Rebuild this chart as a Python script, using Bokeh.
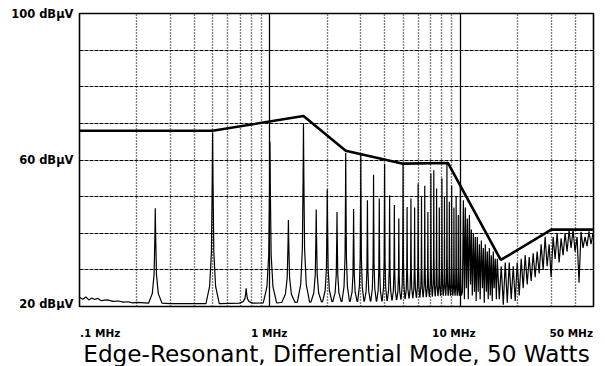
import numpy as np
from bokeh.plotting import figure
from bokeh.layouts import column
from bokeh.models import FixedTicker, Range1d
from bokeh.core.properties import value
from bokeh.embed import file_html
from bokeh.resources import INLINE

# ---------------- data ----------------
x_start, x_end = 0.1, 50.0
y_start, y_end = 20, 100

y_tick_values = [20, 60, 100]
y_tick_labels = ["20 dBµV", "60 dBµV", "100 dBµV"]
x_tick_values = [0.1, 1, 10, 50]
x_tick_labels = [".1 MHz", "1 MHz", "10 MHz", "50 MHz"]
title_text = "Edge-Resonant, Differential Mode, 50 Watts"

grid_decades = [0.1, 1, 10]
grid_minor = [0.2, 0.3, 0.4, 0.5, 0.6, 0.7, 0.8, 0.9,
              2, 3, 4, 5, 6, 7, 8, 9, 20, 30, 40]
grid_db = [20, 30, 40, 50, 60, 70, 80, 90, 100]

# limit line (MHz, dBuV)
limit_freq = [0.1, 0.5, 1.5, 2.5, 5.0, 8.6, 16.3, 30.0, 50.0]
limit_db = [68.0, 68.0, 72.0, 62.5, 59.0, 59.2, 32.7, 41.0, 41.0]

# harmonic peaks (MHz, dBuV)
harm_freq = [0.25, 0.5, 0.75, 1.0, 1.25, 1.5, 1.75, 2.0, 2.25, 2.5,
             2.75, 3.0, 3.25, 3.5, 3.75, 4.0, 4.25, 4.5, 4.75, 5.0,
             5.25, 5.5, 5.75, 6.0, 6.25, 6.5, 6.75, 7.0, 7.25, 7.5,
             7.75, 8.0, 8.25, 8.5, 8.75, 9.0, 9.25, 9.5, 9.75, 10.0]
harm_db = [46.8, 67.5, 25.0, 65.0, 43.6, 70.0, 46.5, 52.0, 45.8, 62.0,
           46.6, 61.5, 49.0, 56.0, 49.5, 59.0, 50.4, 47.7, 44.0, 59.0,
           47.2, 49.5, 47.0, 53.6, 50.0, 53.0, 45.8, 56.3, 57.2, 52.2,
           47.0, 55.0, 50.0, 59.0, 48.6, 53.0, 47.0, 50.0, 45.0, 53.0]

# noise floor below the harmonics (MHz, dBuV)
floor_freq = [0.1, 0.104, 0.108, 0.112, 0.116, 0.12, 0.125, 0.13, 0.14,
              0.15, 0.16, 0.17, 0.18, 0.19, 0.2, 0.3, 0.5, 1.0, 2.0,
              4.0, 6.0, 8.0, 10.0]
floor_db = [22.5, 22.0, 22.6, 21.8, 22.3, 21.9, 22.2, 21.6, 21.8,
            21.4, 21.5, 21.2, 21.3, 21.0, 21.1, 20.8, 20.8, 21.0, 21.3,
            21.5, 22.5, 23.0, 23.0]

# dense emission above 10 MHz, peaks and valleys (MHz, dBuV)
dense_freq = [10.25, 10.37, 10.5, 10.62, 10.75, 10.88, 11.0, 11.15, 11.3,
              11.42, 11.55, 11.70, 11.85, 11.98, 12.1, 12.27, 12.4, 12.58,
              12.7, 12.88, 13.05, 13.20, 13.35, 13.52, 13.7, 13.85, 14.0,
              14.19, 14.35, 14.53, 14.7, 14.89, 15.05, 15.25, 15.45, 15.62,
              16.01, 16.39, 16.80, 17.20, 17.63, 18.05, 18.49, 18.95, 19.41,
              19.88, 20.37, 20.86, 21.37, 21.89, 22.43, 22.98, 23.53, 24.11,
              24.70, 25.30, 25.92, 26.55, 27.20, 27.86, 28.55, 29.24, 29.95,
              30.69, 31.44, 32.21, 32.99, 33.80, 34.62, 35.46, 36.33, 37.22,
              38.13, 39.05, 40.01, 40.99, 41.98, 43.01, 44.06, 45.14, 46.23,
              47.36, 48.52, 49.70]
dense_db = [24.0, 49.0, 22.0, 47.0, 25.0, 44.0, 22.0, 45.0, 26.0,
            41.0, 23.0, 40.0, 24.0, 39.0, 21.5, 39.0, 24.0, 37.0,
            22.0, 38.0, 25.0, 36.0, 21.0, 37.0, 24.0, 35.0, 22.0,
            36.0, 23.0, 34.0, 21.5, 35.0, 25.0, 33.0, 22.0, 33.0,
            22.0, 31.0, 20.5, 32.0, 21.0, 32.0, 22.0, 31.0, 21.5,
            32.0, 23.0, 33.0, 25.0, 34.0, 26.0, 33.5, 27.0, 34.5,
            28.0, 35.0, 29.0, 37.0, 30.0, 39.0, 31.0, 37.0, 28.0,
            39.0, 33.0, 40.0, 32.0, 38.6, 34.0, 40.0, 35.0, 40.8,
            36.0, 41.0, 35.0, 39.0, 26.5, 40.4, 36.0, 39.0, 36.5,
            40.5, 37.0, 40.0]

# ---------------- build the measured trace ----------------
shape_off = [-1.0, -0.45, -0.18, -0.06, 0.0, 0.06, 0.18, 0.45, 1.0]
shape_lvl = [0.0, 0.10, 0.30, 0.70, 1.0, 0.70, 0.30, 0.10, 0.0]

lf_floor = np.log10(floor_freq)
hl = np.log10(harm_freq)
half = []
for i in range(len(hl)):
    gaps = []
    if i > 0:
        gaps.append(hl[i] - hl[i - 1])
    if i < len(hl) - 1:
        gaps.append(hl[i + 1] - hl[i])
    half.append(min(0.035, 0.48 * min(gaps)))

tx, ty = [], []
for f, d in zip(floor_freq, floor_db):
    if np.log10(f) < hl[0] - half[0]:
        tx.append(f); ty.append(d)
for i, (h, pk) in enumerate(zip(hl, harm_db)):
    base = float(np.interp(h, lf_floor, floor_db))
    for o, l in zip(shape_off, shape_lvl):
        tx.append(10 ** (h + o * half[i]))
        ty.append(base + l * (pk - base))
    if i < len(hl) - 1:
        for f, d in zip(floor_freq, floor_db):
            lf = np.log10(f)
            if h + half[i] < lf < hl[i + 1] - half[i + 1]:
                tx.append(f); ty.append(d)
tx += dense_freq
ty += dense_db

# ---------------- layout (pixels) ----------------
W, H = 605, 366
FRAME_L, FRAME_W, FRAME_T, FRAME_H = 79, 514, 13, 293
FRAME_R = W - FRAME_L - FRAME_W
P1_H = 310
P2_H = H - P1_H

p = figure(x_axis_type="log",
           x_range=Range1d(x_start, x_end), y_range=Range1d(y_start, y_end),
           frame_width=FRAME_W, frame_height=FRAME_H,
           min_border_left=FRAME_L, min_border_right=FRAME_R,
           min_border_top=FRAME_T, min_border_bottom=P1_H - FRAME_T - FRAME_H,
           output_backend="svg", toolbar_location=None,
           background_fill_color="white", border_fill_color="white")

p.outline_line_color = "black"
p.outline_line_width = 1.6

p.xgrid.ticker = FixedTicker(ticks=grid_decades, minor_ticks=grid_minor)
p.xgrid.grid_line_color = "black"
p.xgrid.grid_line_width = 1.3
p.xgrid.grid_line_alpha = 1.0
p.xgrid.minor_grid_line_color = "black"
p.xgrid.minor_grid_line_width = 1.4
p.xgrid.minor_grid_line_dash = "1 2"

p.ygrid.ticker = FixedTicker(ticks=grid_db)
p.ygrid.grid_line_color = "black"
p.ygrid.grid_line_width = 1.2
p.ygrid.grid_line_alpha = 1.0
p.ygrid.grid_line_dash = "4 1"

p.xaxis.visible = False

p.yaxis.ticker = FixedTicker(ticks=y_tick_values)
p.yaxis.major_label_overrides = {v: t for v, t in zip(y_tick_values, y_tick_labels)}
p.yaxis.axis_line_color = None
p.yaxis.major_tick_line_color = None
p.yaxis.minor_tick_line_color = None
p.yaxis.major_tick_out = 0
p.yaxis.major_tick_in = 0
p.yaxis.major_label_standoff = 6
p.yaxis.major_label_text_font = "DejaVu Sans"
p.yaxis.major_label_text_font_style = "bold"
p.yaxis.major_label_text_font_size = "11.5px"
p.yaxis.major_label_text_color = "black"

p.line(tx, ty, line_color="black", line_width=1.2)
p.line(limit_freq, limit_db, line_color="black", line_width=2.6)

# ---------------- caption strip sharing the frequency scale ----------------
c = figure(x_axis_type="log", x_range=p.x_range,
           y_range=Range1d(0, P2_H),
           frame_width=FRAME_W, frame_height=P2_H,
           min_border_left=FRAME_L, min_border_right=FRAME_R,
           min_border_top=0, min_border_bottom=0,
           output_backend="svg", toolbar_location=None,
           background_fill_color="white", border_fill_color="white")
c.axis.visible = False
c.grid.visible = False
c.outline_line_color = None

tick_label_y = H - 332.7
x_label_align = ["left", "center", "center", "right"]
x_label_shift = [0.5, -0.7, -6.5, -0.5]
for v, t, a, s in zip(x_tick_values, x_tick_labels, x_label_align, x_label_shift):
    c.text(x=[v], y=[tick_label_y], text=[t], x_offset=s,
           text_align=value(a), text_baseline=value("alphabetic"),
           text_font=value("DejaVu Sans"), text_font_style=value("bold"),
           text_font_size=value("10.5px"), text_color="black")

c.text(x=[float(np.sqrt(x_start * x_end))], y=[H - 353.3], text=[title_text],
       text_align=value("center"), text_baseline=value("alphabetic"),
       text_font=value("DejaVu Sans"), text_font_size=value("23.2px"),
       text_color="black")

open("out.html", "w").write(file_html(column(p, c, spacing=0), INLINE))
